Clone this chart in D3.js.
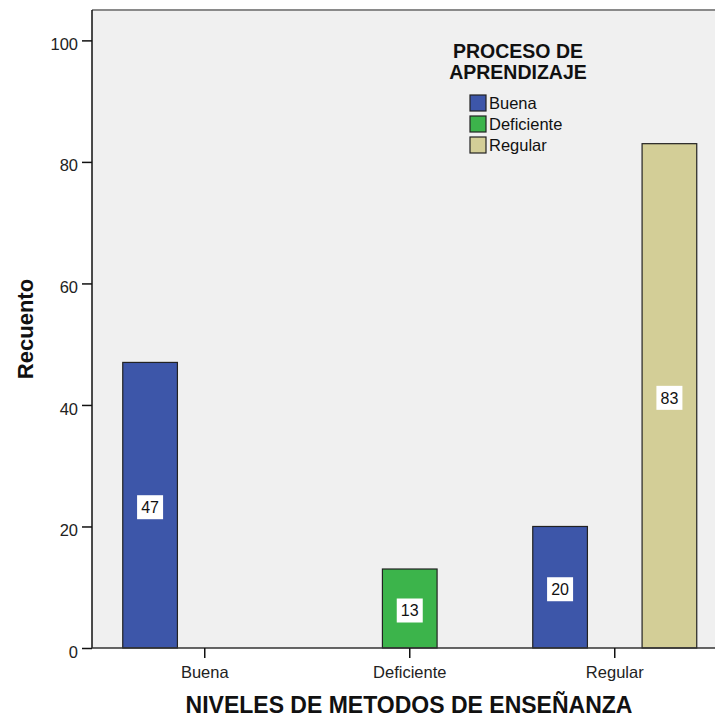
<!DOCTYPE html>
<html><head><meta charset="utf-8">
<script src="https://cdn.jsdelivr.net/npm/d3@7"></script>
<style>body{margin:0;background:#fff}svg{display:block;font-family:"Liberation Sans",Arial,sans-serif}</style>
</head><body><svg id="c" width="715" height="719"></svg>
<script>
const categories = ["Buena","Deficiente","Regular"];
const series = ["Buena","Deficiente","Regular"];
const countsBuena = [47, 0, 20];
const countsDeficiente = [0, 13, 0];
const countsRegular = [0, 0, 83];
const yTicks = [0,20,40,60,80,100];
const colors = {Buena:"#3d56a9", Deficiente:"#3cb44b", Regular:"#d3ce97"};
const seriesValues = {Buena:countsBuena, Deficiente:countsDeficiente, Regular:countsRegular};

const svg = d3.select("#c");
const L = 92, T = 10, B = 648, R = 760;
const y = d3.scaleLinear().domain([0,105]).range([B,T]);
const x = d3.scaleBand().domain(categories).range([L, L+205*3.1]).paddingInner(0.2).paddingOuter(0.15);
const xs = d3.scaleBand().domain(series).range([0, x.bandwidth()]);

svg.append("rect").attr("x",L).attr("y",T).attr("width",R-L).attr("height",B-T).attr("fill","#f0f0f0");
svg.append("line").attr("x1",L).attr("x2",R).attr("y1",T).attr("y2",T).attr("stroke","#8a8a8a").attr("stroke-width",2);

// bars
const bars = [];
series.forEach(s => categories.forEach((c,i) => { if (seriesValues[s][i] > 0) bars.push({c, s, v: seriesValues[s][i]}); }));
svg.selectAll("rect.bar").data(bars).enter().append("rect").attr("class","bar")
  .attr("x", d => x(d.c) + xs(d.s)).attr("width", xs.bandwidth())
  .attr("y", d => y(d.v)).attr("height", d => y(0) - y(d.v))
  .attr("fill", d => colors[d.s]).attr("stroke","#222").attr("stroke-width",1.2);

// value labels
const lab = svg.selectAll("g.lab").data(bars).enter().append("g").attr("class","lab")
  .attr("transform", d => `translate(${x(d.c)+xs(d.s)+xs.bandwidth()/2},${y(d.v/2)+2})`);
lab.append("rect").attr("x",-13).attr("y",-12).attr("width",26).attr("height",24).attr("fill","#fff");
lab.append("text").attr("text-anchor","middle").attr("dy","0.36em").attr("font-size","16px").attr("fill","#111").text(d => d.v);

// y axis
const ya = svg.append("g").attr("transform",`translate(${L},0)`)
  .call(d3.axisLeft(y).tickValues(yTicks).tickSize(10).tickPadding(4));
ya.select(".domain").attr("d",`M0,${T}V${B}`).attr("stroke","#111").attr("stroke-width",1.5);
ya.selectAll(".tick line").attr("stroke","#111").attr("stroke-width",1.5);
ya.selectAll(".tick text").attr("font-size","16.5px").attr("font-family","Liberation Sans, Arial").attr("fill","#222").attr("dy","0.55em");

// x axis
const xa = svg.append("g").attr("transform",`translate(0,${B})`)
  .call(d3.axisBottom(x).tickSize(10).tickPadding(8));
xa.select(".domain").attr("d",`M${L},0H${R}`).attr("stroke","#333").attr("stroke-width",1.5);
xa.selectAll(".tick line").attr("stroke","#111").attr("stroke-width",1.5);
xa.selectAll(".tick text").attr("font-size","16.5px").attr("font-family","Liberation Sans, Arial").attr("fill","#222");

// axis titles
svg.append("text").attr("x",409).attr("y",713).attr("text-anchor","middle").attr("font-size","23px").attr("font-weight","bold").attr("fill","#111")
  .text("NIVELES DE METODOS DE ENSEÑANZA");
svg.append("text").attr("transform","translate(33,329) rotate(-90)").attr("text-anchor","middle").attr("font-size","22px").attr("font-weight","bold").attr("fill","#111")
  .text("Recuento");

// legend
const lg = svg.append("g");
lg.append("text").attr("x",518).attr("y",58).attr("text-anchor","middle").attr("font-size","19.5px").attr("font-weight","bold").attr("fill","#111").text("PROCESO DE");
lg.append("text").attr("x",518).attr("y",79).attr("text-anchor","middle").attr("font-size","19.5px").attr("font-weight","bold").attr("fill","#111").text("APRENDIZAJE");
const li = lg.selectAll("g.li").data(series).enter().append("g").attr("transform",(d,i)=>`translate(470,${95+i*21})`);
li.append("rect").attr("width",16).attr("height",16).attr("fill",d=>colors[d]).attr("stroke","#222").attr("stroke-width",1.2);
li.append("text").attr("x",19).attr("y",14).attr("font-size","16.5px").attr("fill","#111").text(d=>d);
</script></body></html>
